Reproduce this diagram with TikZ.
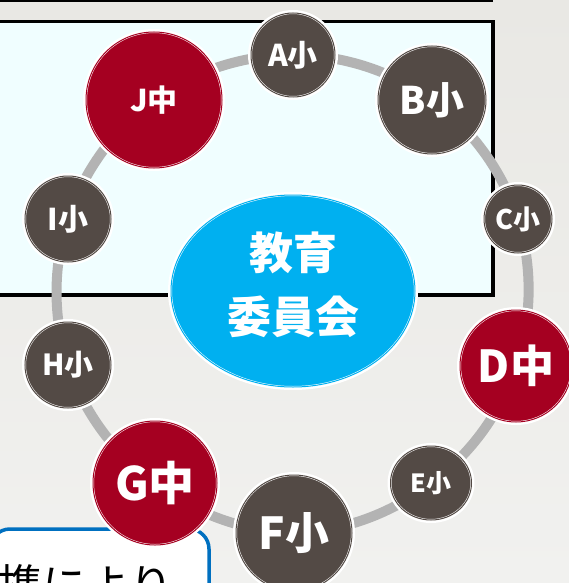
\documentclass[tikz,border=0pt]{standalone}
\usepackage{fontspec}
\newfontfamily\cjk{Noto Sans CJK JP}
\usetikzlibrary{shapes.geometric}
\pgfdeclarelayer{back}
\pgfdeclarelayer{ringlayer}
\pgfsetlayers{back,ringlayer,main}
\definecolor{paperA}{HTML}{E9E8E4}
\definecolor{paperB}{HTML}{F1F1EF}
\definecolor{boxfill}{HTML}{F0FEFF}
\definecolor{ringgray}{HTML}{B3B3B3}
\definecolor{sho}{HTML}{534A45}
\definecolor{chu}{HTML}{A50021}
\definecolor{kyoi}{HTML}{00B0F0}
\definecolor{bluebd}{HTML}{0070C0}
\tikzset{
  school/.style={circle, inner sep=0pt, fill=#1, text=white,
    preaction={draw=white, line width=6pt},
    draw=white, double=#1, line width=0.5pt, double distance=1pt},
  ringline/.style={draw=ringgray, line width=10pt},
  arc/.style={bend left=18, looseness=0.87},
  lbl/.style={font=\cjk\bfseries\fontsize{#1}{#1}\selectfont}
}
\begin{document}
\begin{tikzpicture}[x=1pt,y=-1pt]
\useasboundingbox (0,0) rectangle (569,583);
\begin{pgfonlayer}{back}
  \shade[top color=paperA, bottom color=paperB] (0,0) rectangle (569,583);
  \draw[black, line width=1.6pt] (-5,0.8) -- (493,0.8);
  \draw[black, line width=3.5pt, fill=boxfill] (-10,21.5) rectangle (493,295);
  \draw[bluebd, line width=3.5pt, fill=white, rounded corners=20pt] (-10,529) rectangle (209,640);
\end{pgfonlayer}

% centre ellipse
\node[ellipse, minimum width=244pt, minimum height=192pt, inner sep=0pt, fill=kyoi,
  preaction={draw=white, line width=6pt}, draw=white, double=kyoi,
  line width=0.5pt, double distance=1pt] (BOE) at (293,291) {};
\node[lbl=44, text=white, align=center, inner sep=0pt, font=\cjk\bfseries\fontsize{44}{64}\selectfont]
  (BOEtext) at ([yshift=6pt]BOE.center) {教育\\委員会};

% schools
\node[school=sho, minimum size=84pt,  lbl=30] (A) at (293,55)  {A小};
\node[school=sho, minimum size=108pt, lbl=38] (B) at (432,100) {B小};
\node[school=sho, minimum size=68pt,  lbl=27] (C) at (518,219) {C小};
\node[school=chu, minimum size=112pt, lbl=44] (D) at (516,366) {D中};
\node[school=sho, ellipse, minimum width=81pt, minimum height=74pt, lbl=25] (E) at (431,483) {E小};
\node[school=sho, minimum size=116pt, lbl=44] (F) at (294,533) {F小};
\node[school=chu, minimum size=124pt, lbl=46] (G) at (155,483) {G中};
\node[school=sho, minimum size=86pt,  lbl=29] (H) at (68,365)  {H小};
\node[school=sho, minimum size=86pt,  lbl=30] (I) at (68,219)  {I小};
\node[school=chu, minimum size=136pt, lbl=30] (J) at (154,100) {J中};

% bottom text
\node[anchor=base west, inner sep=0pt, font=\cjk\fontsize{44}{44}\selectfont, text=black]
  (renkei) at (-2,601) {携により};

\begin{pgfonlayer}{ringlayer}
  \draw[ringline] (A.center) to[arc] (B.center);
  \draw[ringline] (B.center) to[arc] (C.center);
  \draw[ringline] (C.center) to[arc] (D.center);
  \draw[ringline] (D.center) to[arc] (E.center);
  \draw[ringline] (E.center) to[arc] (F.center);
  \draw[ringline] (F.center) to[arc] (G.center);
  \draw[ringline] (G.center) to[arc] (H.center);
  \draw[ringline] (H.center) to[arc] (I.center);
  \draw[ringline] (I.center) to[arc] (J.center);
  \draw[ringline] (J.center) to[arc] (A.center);
\end{pgfonlayer}
\end{tikzpicture}
\end{document}
